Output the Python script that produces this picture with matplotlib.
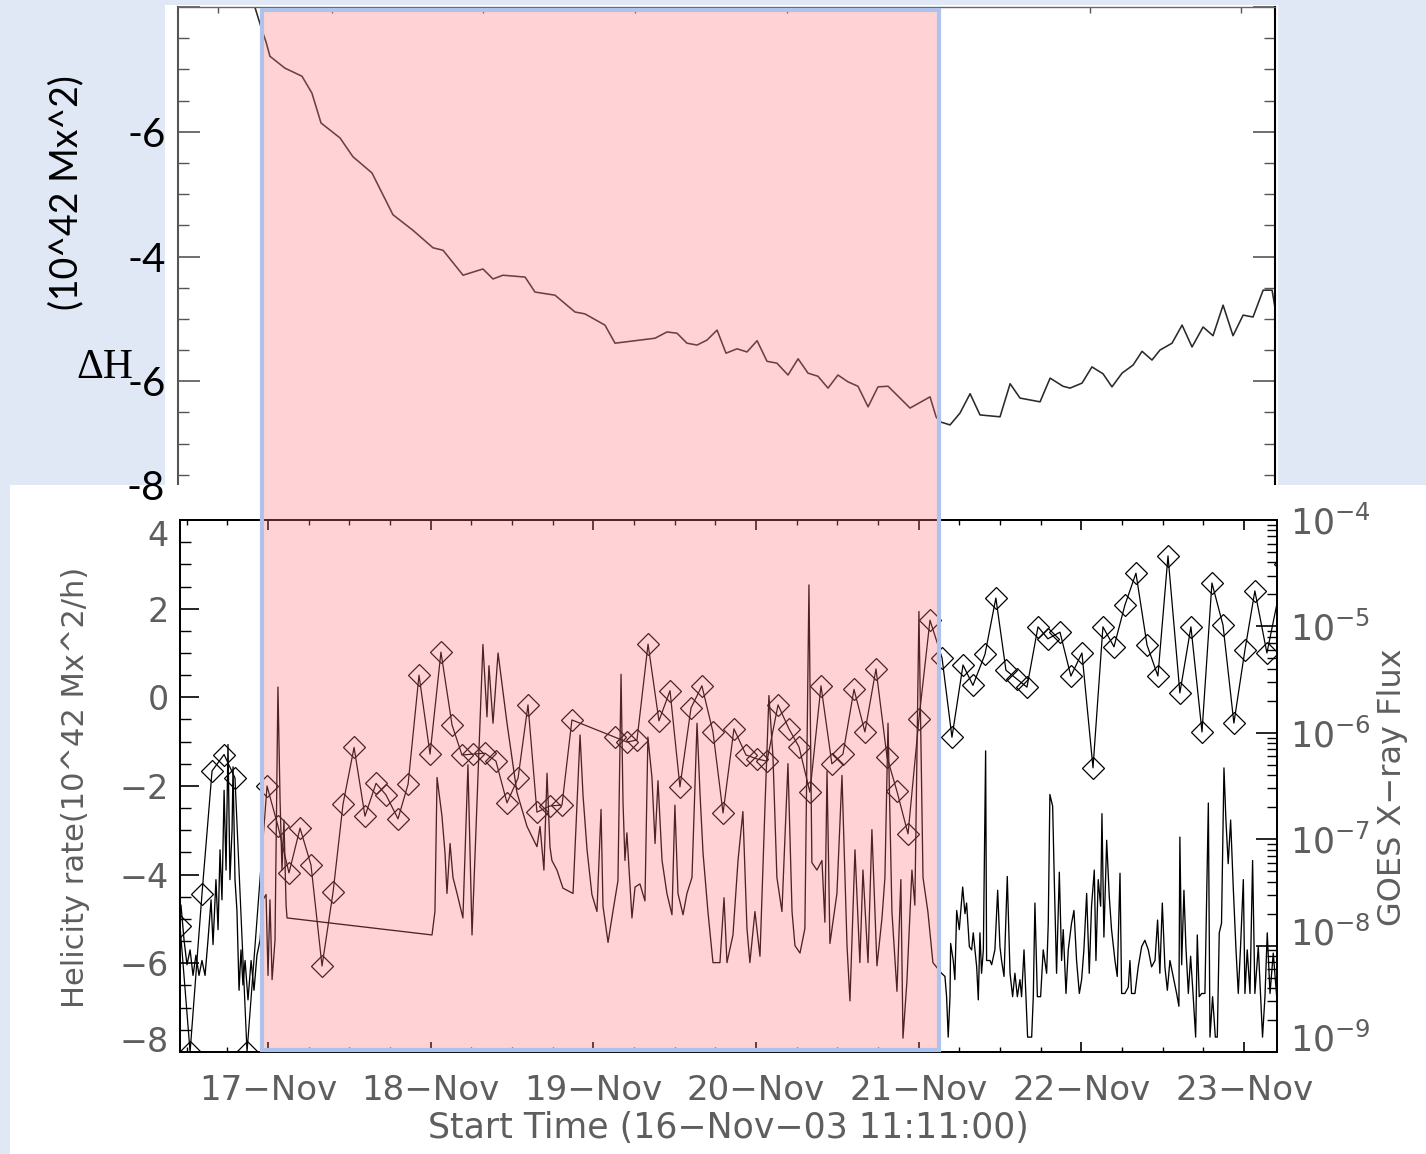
import numpy as np
import matplotlib
matplotlib.use("Agg")
import matplotlib.pyplot as plt
from matplotlib.patches import Rectangle
from matplotlib.ticker import (MultipleLocator, FixedLocator, FixedFormatter,
                               LogLocator, NullFormatter, FuncFormatter)

# ---------------- data (time in days from 17-Nov-03 00:00 UT) ----------------
# Top panel: accumulated helicity change Delta H (10^42 Mx^2)
dh_time = [-0.141, -0.037, -0.012, 0.012, 0.104, 0.209, 0.270, 0.326, 0.443, 0.522,
           0.639, 0.768, 0.891, 1.014, 1.076, 1.199, 1.321, 1.383, 1.444, 1.580,
           1.641, 1.764, 1.887, 1.948, 2.071, 2.133, 2.379, 2.452, 2.514, 2.575,
           2.637, 2.698, 2.760, 2.815, 2.883, 2.944, 3.006, 3.067, 3.128, 3.196,
           3.258, 3.319, 3.380, 3.442, 3.503, 3.565, 3.626, 3.688, 3.749, 3.811,
           3.946, 4.069, 4.106, 4.130, 4.192, 4.253, 4.315, 4.376, 4.499, 4.561,
           4.622, 4.745, 4.807, 4.886, 4.929, 5.003, 5.064, 5.132, 5.187, 5.249,
           5.317, 5.372, 5.433, 5.482, 5.556, 5.618, 5.679, 5.747, 5.808, 5.870,
           5.931, 5.993, 6.054, 6.116, 6.171, 6.195]
dh_value = [0.51, -0.37, -0.56, -0.79, -0.98, -1.11, -1.38, -1.86, -2.10, -2.40,
            -2.66, -3.33, -3.58, -3.86, -3.90, -4.30, -4.20, -4.36, -4.30, -4.33,
            -4.57, -4.62, -4.89, -4.92, -5.10, -5.39, -5.31, -5.21, -5.23, -5.39,
            -5.42, -5.34, -5.18, -5.55, -5.48, -5.53, -5.35, -5.68, -5.71, -5.90,
            -5.64, -5.87, -5.92, -6.11, -5.90, -6.01, -6.08, -6.41, -6.09, -6.08,
            -6.43, -6.25, -6.57, -6.65, -6.70, -6.51, -6.20, -6.54, -6.57, -6.04,
            -6.27, -6.33, -5.95, -6.08, -6.11, -6.03, -5.77, -5.88, -6.09, -5.87,
            -5.74, -5.52, -5.66, -5.50, -5.39, -5.10, -5.45, -5.13, -5.27, -4.78,
            -5.27, -4.94, -4.97, -4.54, -4.54, -4.91]
dh_tick_values = [-8, -6, -4, -2, 0]
dh_tick_labels = ['', '-6', '-4', '-6', '']
top_minor_x = [-0.307, 0.393, 1.321, 2.256, 3.19, 4.12, 5.05, 5.98]

# Bottom panel: helicity injection rate (10^42 Mx^2/h)
hr_time = [-0.541, -0.479, -0.406, -0.344, -0.270, -0.203, -0.129, -0.006, 0.061, 0.129,
           0.197, 0.264, 0.332, 0.400, 0.461, 0.529, 0.596, 0.664, 0.725, 0.799,
           0.861, 0.928, 0.996, 1.063, 1.131, 1.192, 1.260, 1.334, 1.401, 1.469,
           1.537, 1.598, 1.653, 1.733, 1.807, 1.868, 2.133, 2.207, 2.268, 2.336,
           2.403, 2.471, 2.532, 2.600, 2.667, 2.735, 2.797, 2.864, 2.938, 3.006,
           3.067, 3.135, 3.202, 3.264, 3.331, 3.399, 3.466, 3.534, 3.602, 3.669,
           3.737, 3.805, 3.866, 3.934, 4.001, 4.069, 4.143, 4.204, 4.272, 4.333,
           4.407, 4.474, 4.536, 4.604, 4.665, 4.733, 4.794, 4.868, 4.935, 5.003,
           5.071, 5.132, 5.200, 5.267, 5.335, 5.403, 5.470, 5.532, 5.605, 5.673,
           5.741, 5.802, 5.870, 5.937, 6.005, 6.066, 6.140, 6.251]
hr_value = [-5.15, -8.00, -4.44, -1.66, -1.29, -1.82, -8.00, -2.00, -2.90, -3.96,
            -2.95, -3.78, -6.06, -4.39, -2.41, -1.13, -2.68, -1.94, -2.20, -2.74,
            -1.96, 0.50, -1.28, 1.02, -0.62, -1.30, -1.28, -1.26, -1.44, -2.38,
            -1.82, -0.17, -2.59, -2.45, -2.43, -0.51, -0.90, -1.01, -0.96, 1.20,
            -0.53, 0.15, -2.02, -0.24, 0.26, -0.78, -2.61, -0.71, -1.30, -1.39,
            -1.44, -0.17, -0.71, -1.12, -2.14, 0.26, -1.50, -1.28, 0.18, -0.78,
            0.64, -1.35, -2.12, -3.08, -0.49, 1.74, 0.89, -0.90, 0.73, 0.27,
            0.97, 2.24, 0.61, 0.41, 0.23, 1.59, 1.32, 1.47, 0.48, 1.00,
            -1.59, 1.59, 1.14, 2.08, 2.80, 1.18, 0.48, 3.19, 0.10, 1.59,
            -0.78, 2.58, 1.63, -0.58, 1.07, 2.40, 1.00, 3.0]
hr_tick_values = [-8, -6, -4, -2, 0, 2, 4]
hr_tick_labels = ['\u22128', '\u22126', '\u22124', '\u22122', '0', '2', '4']

# GOES X-ray flux, log10(W m^-2)
goes_time = [-0.535, -0.516, -0.498, -0.479, -0.461, -0.443, -0.424, -0.406, -0.387, -0.369,
             -0.350, -0.338, -0.320, -0.307, -0.295, -0.283, -0.270, -0.258, -0.246, -0.234,
             -0.221, -0.215, -0.203, -0.191, -0.178, -0.166, -0.154, -0.141, -0.123, -0.104,
             -0.086, -0.068, -0.049, -0.031, -0.012, 0.000, 0.012, 0.025, 0.043, 0.061,
             0.074, 0.086, 0.098, 0.111, 0.117, 1.008, 1.026, 1.039, 1.069, 1.088,
             1.100, 1.119, 1.137, 1.162, 1.198, 1.229, 1.254, 1.321, 1.346, 1.358,
             1.383, 1.414, 1.469, 1.530, 1.592, 1.653, 1.672, 1.696, 1.715, 1.733,
             1.745, 1.776, 1.813, 1.875, 1.918, 1.936, 1.961, 1.991, 2.022, 2.047,
             2.059, 2.090, 2.120, 2.151, 2.170, 2.182, 2.194, 2.206, 2.237, 2.256,
             2.286, 2.317, 2.335, 2.360, 2.379, 2.397, 2.422, 2.452, 2.483, 2.501,
             2.520, 2.551, 2.575, 2.606, 2.637, 2.655, 2.674, 2.704, 2.735, 2.778,
             2.803, 2.821, 2.858, 2.889, 2.919, 2.944, 2.962, 2.993, 3.024, 3.055,
             3.079, 3.104, 3.128, 3.159, 3.196, 3.221, 3.239, 3.270, 3.300, 3.325,
             3.343, 3.374, 3.405, 3.423, 3.436, 3.454, 3.497, 3.528, 3.559, 3.577,
             3.608, 3.638, 3.657, 3.688, 3.712, 3.743, 3.774, 3.792, 3.811, 3.835,
             3.866, 3.890, 3.903, 3.927, 3.958, 3.976, 4.001, 4.026, 4.056, 4.087,
             4.140, 4.161, 4.171, 4.181, 4.192, 4.196, 4.212, 4.222, 4.233, 4.249,
             4.270, 4.284, 4.294, 4.311, 4.325, 4.335, 4.356, 4.366, 4.376, 4.386,
             4.397, 4.411, 4.417, 4.438, 4.448, 4.468, 4.485, 4.499, 4.509, 4.524,
             4.544, 4.561, 4.577, 4.591, 4.606, 4.622, 4.632, 4.647, 4.659, 4.669,
             4.694, 4.704, 4.714, 4.729, 4.749, 4.765, 4.786, 4.796, 4.806, 4.823,
             4.833, 4.847, 4.864, 4.878, 4.888, 4.905, 4.919, 4.939, 4.954, 4.970,
             4.987, 5.001, 5.015, 5.032, 5.048, 5.062, 5.079, 5.089, 5.103, 5.118,
             5.126, 5.138, 5.155, 5.171, 5.185, 5.206, 5.220, 5.237, 5.247, 5.267,
             5.288, 5.298, 5.308, 5.329, 5.349, 5.370, 5.390, 5.411, 5.431, 5.452,
             5.468, 5.482, 5.497, 5.513, 5.528, 5.544, 5.564, 5.585, 5.599, 5.605,
             5.616, 5.630, 5.642, 5.657, 5.671, 5.687, 5.702, 5.712, 5.724, 5.739,
             5.759, 5.780, 5.790, 5.806, 5.823, 5.835, 5.847, 5.861, 5.876, 5.888,
             5.902, 5.917, 5.933, 5.950, 5.964, 5.978, 5.995, 6.005, 6.019, 6.036,
             6.052, 6.066, 6.087, 6.101, 6.113, 6.128, 6.142, 6.159, 6.179, 6.200]
goes_logflux = [-7.62, -7.95, -8.18, -8.04, -8.28, -8.09, -8.28, -8.14, -8.28, -7.95,
                -7.57, -7.99, -7.38, -7.85, -7.10, -7.57, -6.54, -7.29, -6.11, -7.38,
                -6.91, -6.32, -7.38, -7.67, -8.42, -8.04, -8.37, -8.14, -8.51, -8.14,
                -8.42, -8.09, -7.95, -7.57, -7.52, -8.28, -7.57, -8.32, -7.95, -5.57,
                -6.63, -7.29, -6.82, -7.62, -7.74, -7.90, -7.68, -6.42, -6.78, -7.13,
                -7.51, -7.04, -7.36, -7.51, -7.74, -6.30, -7.90, -5.17, -5.85, -5.37,
                -5.91, -5.25, -5.91, -6.56, -6.88, -7.07, -6.88, -7.29, -6.38, -7.07,
                -7.20, -7.29, -7.46, -7.51, -6.02, -6.58, -7.10, -7.52, -7.68, -6.72,
                -7.63, -7.97, -7.68, -7.39, -5.45, -6.65, -7.20, -6.94, -7.74, -7.45,
                -7.42, -7.58, -6.04, -6.42, -7.04, -6.45, -7.20, -7.51, -7.71, -6.68,
                -7.51, -7.71, -7.51, -7.36, -5.91, -6.56, -7.13, -7.68, -8.16, -8.16,
                -7.55, -8.16, -7.90, -7.20, -6.74, -7.84, -8.16, -7.68, -8.10, -6.68,
                -5.65, -6.23, -7.36, -7.68, -6.29, -7.68, -8.00, -8.07, -7.84, -4.61,
                -7.22, -7.29, -7.20, -7.78, -6.36, -7.98, -7.51, -6.40, -8.00, -8.52,
                -7.10, -8.16, -7.29, -8.16, -6.91, -8.19, -7.74, -7.36, -5.91, -7.68,
                -8.43, -7.38, -8.87, -8.34, -7.29, -7.62, -4.86, -7.36, -7.68, -8.16,
                -8.26, -8.29, -8.48, -8.86, -8.48, -7.98, -8.14, -8.32, -7.67, -7.85,
                -7.45, -7.70, -7.60, -8.01, -8.04, -7.88, -8.20, -8.51, -7.88, -8.26,
                -8.04, -6.17, -8.14, -8.14, -8.18, -8.04, -7.48, -8.01, -8.14, -8.29,
                -7.35, -8.26, -8.48, -8.26, -8.48, -8.32, -8.48, -8.04, -8.48, -8.86,
                -8.86, -8.48, -7.60, -8.48, -8.48, -8.04, -8.26, -7.79, -6.58, -6.69,
                -7.38, -8.26, -7.31, -8.14, -7.85, -8.45, -8.04, -7.79, -7.67, -8.14,
                -8.45, -8.32, -8.04, -7.51, -8.26, -7.63, -7.29, -8.14, -7.38, -7.63,
                -6.76, -7.92, -7.01, -7.54, -7.85, -8.14, -8.29, -7.32, -8.45, -8.45,
                -8.39, -8.14, -8.45, -8.45, -8.20, -8.01, -7.95, -8.04, -8.20, -8.14,
                -7.76, -8.26, -7.60, -8.20, -8.42, -8.14, -8.29, -8.45, -8.57, -6.98,
                -8.18, -7.48, -8.01, -8.45, -8.10, -8.48, -8.86, -7.90, -8.48, -8.45,
                -8.45, -6.66, -8.86, -8.48, -8.86, -8.86, -7.88, -7.79, -6.33, -6.82,
                -7.23, -6.82, -7.45, -8.04, -8.45, -8.01, -7.38, -8.45, -8.04, -8.45,
                -7.20, -8.45, -8.01, -8.48, -8.86, -8.48, -7.88, -8.45, -8.07, -8.48]

day_ticks = [0, 1, 2, 3, 4, 5, 6]
day_labels = ['17\u2212Nov', '18\u2212Nov', '19\u2212Nov', '20\u2212Nov',
              '21\u2212Nov', '22\u2212Nov', '23\u2212Nov']
top_xlim = (-0.553, 6.189)
bot_xlim = (-0.541, 6.202)

# ---------------- figure ----------------
W, H = 1426, 1154
fig = plt.figure(figsize=(W / 100, H / 100), dpi=100)
fig.patch.set_facecolor('#E1E8F5')


def box(x0, y0, x1, y1):
    return [x0 / W, 1 - y1 / H, (x1 - x0) / W, (y1 - y0) / H]


def add_rect(x0, y0, x1, y1, **kw):
    r = Rectangle((x0 / W, 1 - y1 / H), (x1 - x0) / W, (y1 - y0) / H,
                  transform=fig.transFigure, **kw)
    fig.add_artist(r)
    return r


GRAY = '#5e5e5e'

# white card behind the top panel
add_rect(165, 5, 1278, 485, facecolor='white', edgecolor='none', zorder=-1)

# ---- top panel ----
ax_top = fig.add_axes(box(178, 7, 1275, 506))
ax_top.set_zorder(0)
ax_top.patch.set_visible(False)
ax_top.plot(dh_time, dh_value, color='#2a2a2a', lw=1.15)
ax_top.set_xlim(*top_xlim)
ax_top.set_ylim(-8, 0)
ax_top.yaxis.set_major_locator(FixedLocator(dh_tick_values))
ax_top.yaxis.set_major_formatter(FixedFormatter(dh_tick_labels))
ax_top.yaxis.set_minor_locator(MultipleLocator(0.5))
ax_top.tick_params(axis='y', which='major', direction='in', length=16, width=1.2,
                   color='#555555', left=True, right=True, labelsize=29, pad=9,
                   labelcolor='black', labelfontfamily='Lato')
ax_top.tick_params(axis='y', which='minor', direction='in', length=8, width=1.0,
                   color='#555555', left=True, right=True)
ax_top.xaxis.set_major_locator(FixedLocator(top_minor_x))
ax_top.xaxis.set_major_formatter(NullFormatter())
ax_top.tick_params(axis='x', which='both', direction='in', top=True, bottom=False,
                   labelbottom=False, labeltop=False, length=4, width=1.0, color='#555555')
ax_top.spines['bottom'].set_visible(False)
ax_top.spines['left'].set_color('#555555')
ax_top.spines['left'].set_linewidth(1.5)
ax_top.spines['top'].set_color('#666666')
ax_top.spines['top'].set_linewidth(1.0)
ax_top.spines['right'].set_color('black')
ax_top.spines['right'].set_linewidth(1.5)

# white card behind the bottom panel (covers bottom of top panel)
add_rect(10, 485, 1426, 1154, facecolor='white', edgecolor='none', zorder=0.5)

# ---- bottom panel ----
ax = fig.add_axes(box(180, 520, 1277, 1052))
ax.set_zorder(1)
ax.plot(hr_time, hr_value, color='black', lw=0.9, marker='D', ms=11.5,
        mfc='none', mec='black', mew=0.9)
ax.set_xlim(*bot_xlim)
ax.set_ylim(-8, 4)

ax2 = ax.twinx()
ax2.set_zorder(1.2)
ax2.patch.set_visible(False)
ax2.plot(goes_time, 10 ** np.asarray(goes_logflux), color='black', lw=0.95)
ax2.set_yscale('log')
ax2.set_ylim(1e-9, 1e-4)
ax2.set_xlim(*bot_xlim)

ax.xaxis.set_major_locator(FixedLocator(day_ticks))
ax.xaxis.set_major_formatter(FixedFormatter(day_labels))
ax.xaxis.set_minor_locator(MultipleLocator(0.25))
ax.tick_params(axis='x', which='major', direction='in', length=7, width=1.2,
               top=True, bottom=True, labelsize=24.5, pad=16, labelcolor=GRAY)
ax.tick_params(axis='x', which='minor', direction='in', length=3.5, width=1.0,
               top=True, bottom=True)
ax.yaxis.set_major_locator(FixedLocator(hr_tick_values))
ax.yaxis.set_major_formatter(FixedFormatter(hr_tick_labels))
ax.yaxis.set_minor_locator(MultipleLocator(0.5))
ax.tick_params(axis='y', which='major', direction='in', length=14, width=1.2,
               left=True, right=False, labelsize=24, pad=8, labelcolor=GRAY)
ax.tick_params(axis='y', which='minor', direction='in', length=8, width=1.0,
               left=True, right=False)

ax2.yaxis.set_major_locator(LogLocator(base=10, numticks=12))
ax2.yaxis.set_minor_locator(LogLocator(base=10, subs=np.arange(2, 10), numticks=12))
ax2.yaxis.set_minor_formatter(NullFormatter())
ax2.yaxis.set_major_formatter(FuncFormatter(lambda v, p: r'$10^{%d}$' % int(round(np.log10(v)))))
ax2.tick_params(axis='y', which='major', direction='in', length=15, width=1.2,
                labelsize=25, pad=9, labelcolor=GRAY)
ax2.tick_params(axis='y', which='minor', direction='in', length=7, width=1.0)

for a in (ax, ax2):
    for s in a.spines.values():
        s.set_linewidth(1.3)
        s.set_color('black')
for a in (ax_top, ax, ax2):
    a.xaxis.offsetText.set_visible(False)
    a.yaxis.offsetText.set_visible(False)

# ---- highlighted interval (semi-transparent pink with blue frame) ----
add_rect(262, 10, 939, 1050, facecolor=(1.0, 116 / 255, 122 / 255), alpha=0.31,
         edgecolor='none', zorder=5)
add_rect(262, 10, 939, 1050, fill=False, edgecolor='#AEC3EB', linewidth=3.0, zorder=5.1)

# ---- texts ----
fig.text(66 / W, 1 - 193 / H, '(10^42 Mx^2)', rotation=90, ha='center', va='center',
         family='Lato', fontsize=27, color='black', zorder=6)
fig.text(105 / W, 1 - 368 / H, '\u0394H', family='Liberation Serif', fontsize=30,
         ha='center', va='center', color='black', zorder=6)
fig.text(165 / W, 1 - 488 / H, '-8', family='Lato', fontsize=29, ha='right',
         va='center', color='black', zorder=6)
fig.text(76 / W, 1 - 787 / H, 'Helicity rate(10^42 Mx^2/h)', rotation=90,
         ha='center', va='center', fontsize=22, color=GRAY, zorder=6)
fig.text(1393 / W, 1 - 787 / H, 'GOES X\u2212ray Flux', rotation=90,
         ha='center', va='center', fontsize=23, color=GRAY, zorder=6)
fig.text(728 / W, 1 - 1128 / H, 'Start Time (16\u2212Nov\u221203 11:11:00)',
         ha='center', va='center', fontsize=25, color=GRAY, zorder=6)

# keep the outermost tick labels inside the frame, as in the original
fig.canvas.draw()
for t in ax.yaxis.get_major_ticks():
    v = t.get_loc()
    if np.isclose(v, -8):
        t.label1.set_verticalalignment('baseline')
    elif np.isclose(v, 4):
        t.label1.set_verticalalignment('top')
for t in ax2.yaxis.get_major_ticks():
    v = t.get_loc()
    if np.isclose(v, 1e-9):
        t.label2.set_verticalalignment('baseline')

fig.savefig('out.png', dpi=100)
